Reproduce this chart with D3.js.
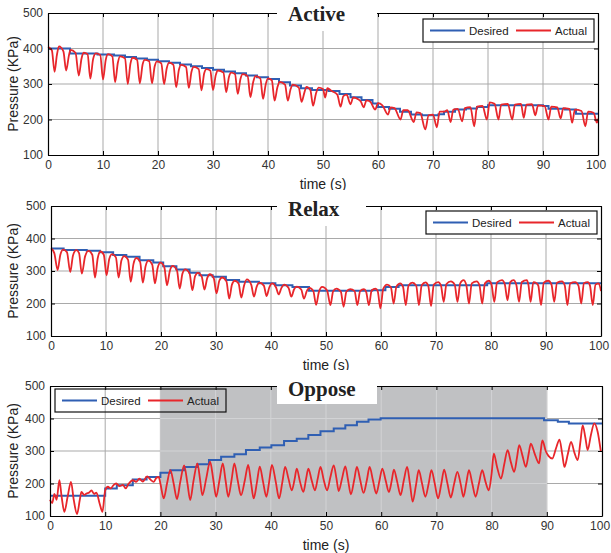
<!DOCTYPE html>
<html>
<head>
<meta charset="utf-8">
<script src="https://cdn.jsdelivr.net/npm/d3@7"></script>
<style>
body { margin: 0; background: #fff; }
text { font-family: Arial, "Liberation Sans", sans-serif; }
text.title { font-family: "Liberation Serif", "Times New Roman", serif; }
</style>
</head>
<body>
<svg id="drawing_region"></svg>
<script>
const xTicks = [0, 10, 20, 30, 40, 50, 60, 70, 80, 90, 100];
const yTicks = [100, 200, 300, 400, 500];
const seriesNames = ['Desired', 'Actual'];
const panelTitles = ['Active', 'Relax', 'Oppose'];
const opposeShade = [20, 90];

// [time (s), pressure (KPa)]
const activeDesired = [[0,400],[4,386],[9,383],[12,380],[14,376],[16,372],[18,368],[20,364],[22,360],[24,355],[26,350],[28,345],[30,340],[32,335],[34,330],[36,324],[38,319],[40,314],[42,305],[44,296],[46,288],[48,283],[51,280],[53,272],[55,263],[57,255],[59,245],[60,235],[62,230],[64,222],[66,214],[68,212],[71,215],[72,222],[74,228],[76,231],[78,235],[80,240],[90,238],[91,230],[94,228],[96,216],[100,214]];
const activeActual = [[0,405],[0.7,395],[1.2,334],[1.6,380],[2.0,406],[2.8,392],[3.3,338],[3.8,380],[4.1,396],[5.0,388],[5.6,324],[6.1,372],[6.5,388],[7.2,384],[7.7,315],[8.2,370],[8.7,386],[9.5,382],[10.0,313],[10.5,368],[10.9,384],[11.7,378],[12.2,305],[12.7,360],[13.1,378],[14.0,372],[14.5,300],[15.0,358],[15.4,374],[16.2,368],[16.7,302],[17.2,355],[17.6,368],[18.4,364],[18.9,302],[19.4,350],[19.8,364],[20.6,358],[21.1,300],[21.6,345],[22.0,360],[22.8,354],[23.3,291],[23.8,340],[24.2,354],[25.1,348],[25.6,289],[26.1,335],[26.5,348],[27.4,342],[27.9,282],[28.4,330],[28.8,342],[29.5,338],[30.0,283],[30.5,325],[30.9,338],[31.9,332],[32.4,277],[32.9,320],[33.3,332],[34.0,328],[34.5,272],[35.0,315],[35.4,328],[36.3,322],[36.8,263],[37.3,305],[37.7,322],[38.6,316],[39.1,258],[39.6,300],[40.0,316],[40.7,310],[41.2,253],[41.7,290],[42.1,306],[43.1,298],[43.6,253],[44.1,285],[44.5,298],[45.6,290],[46.1,250],[46.6,275],[47.0,292],[47.7,283],[48.2,239],[48.7,272],[49.2,290],[50.0,286],[50.4,262],[50.8,288],[51.6,280],[52.6,270],[53.2,236],[53.7,266],[54.3,270],[55.0,243],[55.5,262],[56.3,258],[56.9,250],[57.4,234],[57.9,254],[58.6,250],[59.5,228],[60.0,246],[60.8,240],[61.8,214],[62.3,234],[63.0,232],[64.1,200],[64.6,226],[65.4,226],[66.5,193],[67.0,220],[67.7,218],[68.6,172],[69.2,212],[70.0,214],[70.7,178],[71.2,222],[72.0,222],[72.6,226],[73.2,193],[73.7,228],[74.5,230],[75.3,195],[75.8,232],[76.8,235],[77.5,181],[78.0,236],[79.0,238],[79.8,200],[80.3,248],[81.2,244],[81.9,200],[82.4,242],[83.6,244],[84.4,200],[84.9,242],[86.0,244],[86.5,205],[87.0,242],[88.0,243],[88.6,212],[89.1,240],[90.3,238],[91.0,200],[91.5,236],[92.6,234],[93.2,203],[93.7,232],[94.8,230],[95.3,191],[95.8,228],[97.0,224],[97.7,181],[98.2,222],[99.2,219],[99.8,191],[100,202]];

const relaxDesired = [[0,369],[2.3,365],[6.5,362],[8.9,358],[11.3,349],[13.7,344],[16.1,333],[18.6,326],[20.4,315],[22.8,305],[25.2,295],[27,287],[29.4,282],[31.8,272],[34.2,267],[37.8,262],[40.8,256],[43.9,251],[46.9,239],[58.4,241],[60.8,251],[63.2,256],[79.3,262],[100,262]];
const relaxActual = [[0.0,370],[0.6,355],[1.2,303],[1.7,350],[2.2,366],[2.9,358],[3.5,297],[4.0,348],[4.6,364],[5.1,355],[5.6,292],[6.2,345],[6.8,362],[7.5,350],[8.0,280],[8.5,340],[9.0,360],[9.6,350],[10.1,287],[10.6,338],[11.1,352],[11.8,342],[12.3,280],[12.8,332],[13.3,346],[14.0,335],[14.5,267],[15.0,322],[15.5,340],[16.2,328],[16.7,264],[17.2,315],[17.7,332],[18.4,320],[18.9,262],[19.4,310],[19.9,326],[20.6,312],[21.1,256],[21.6,300],[22.1,316],[22.9,302],[23.4,246],[23.9,292],[24.4,305],[25.2,292],[25.7,241],[26.2,284],[26.7,294],[27.4,283],[27.9,243],[28.4,278],[28.9,290],[29.6,277],[30.1,231],[30.6,270],[31.1,280],[31.9,268],[32.4,215],[32.9,258],[33.4,270],[34.1,262],[34.6,218],[35.1,255],[35.6,274],[36.4,258],[36.9,221],[37.4,252],[37.9,264],[38.7,255],[39.2,223],[39.7,250],[40.2,262],[40.9,250],[41.4,228],[41.9,248],[42.4,258],[43.2,248],[43.7,221],[44.2,244],[44.7,252],[45.5,243],[46.0,215],[46.5,238],[47.0,248],[47.7,238],[48.2,196],[48.7,235],[49.3,251],[50.2,240],[50.8,195],[51.3,238],[51.9,246],[52.7,236],[53.2,190],[53.7,236],[54.4,244],[55.2,238],[55.7,195],[56.2,238],[56.9,244],[57.3,236],[57.8,195],[58.3,240],[59.0,246],[59.4,238],[59.9,185],[60.4,245],[61.1,258],[61.8,250],[62.3,200],[62.8,252],[63.5,262],[64.0,252],[64.5,195],[65.0,255],[65.7,264],[66.4,255],[66.9,195],[67.4,256],[68.1,265],[68.6,254],[69.1,192],[69.6,258],[70.4,266],[70.9,256],[71.4,205],[71.9,260],[72.7,268],[73.4,258],[73.9,205],[74.4,262],[75.0,272],[75.5,258],[76.0,200],[76.5,262],[77.4,268],[77.9,256],[78.4,200],[78.9,262],[79.6,270],[80.1,258],[80.6,205],[81.1,265],[82.0,272],[82.5,260],[83.0,210],[83.5,266],[84.1,272],[84.6,258],[85.1,205],[85.6,266],[86.5,272],[86.8,258],[87.2,205],[87.7,266],[88.3,262],[88.6,255],[89.1,195],[89.6,264],[90.4,270],[91.0,258],[91.5,205],[92.0,264],[92.9,268],[93.4,256],[93.9,195],[94.4,262],[95.3,266],[95.9,255],[96.4,200],[96.9,262],[97.6,266],[98.0,255],[98.5,195],[99.0,258],[99.6,262],[100,238]];

const opposeDesired = [[0,162],[10,185],[12.1,195],[15,212],[17.5,220],[20,233],[21.8,241],[24.3,251],[26.7,259],[28.8,272],[31,282],[33.4,290],[35.5,303],[38,311],[40.1,318],[42.4,331],[44.7,338],[46.8,349],[49,361],[51.4,369],[53.5,379],[55.6,390],[57.7,397],[59.9,401],[89.5,395],[92,390],[94,385],[100,385]];
const opposeActual = [[0.0,150],[0.4,140],[0.8,168],[1.2,150],[1.7,210],[2.1,160],[2.6,113],[3.2,160],[3.8,205],[4.3,150],[4.9,106],[5.4,150],[5.7,174],[6.2,165],[6.6,169],[7.1,172],[7.5,179],[8.0,168],[8.4,172],[9.0,138],[9.5,113],[10.0,179],[10.5,190],[11.0,185],[11.5,195],[12.0,200],[12.6,192],[13.2,196],[13.7,185],[14.2,198],[15.0,210],[15.6,205],[16.2,215],[16.8,206],[17.6,222],[18.2,212],[18.8,205],[19.3,218],[19.7,220],[20.0,200],[20.6,154],[21.2,200],[21.8,241],[22.4,200],[23.0,152],[23.6,205],[24.3,256],[24.9,200],[25.4,149],[26.0,208],[26.7,262],[27.2,210],[27.6,164],[28.3,215],[29.0,267],[29.6,210],[30.1,159],[30.7,210],[31.3,262],[31.8,210],[32.3,159],[32.9,212],[33.4,262],[34.0,210],[34.6,164],[35.3,210],[35.9,257],[36.4,205],[36.9,154],[37.5,205],[38.0,252],[38.6,205],[39.2,159],[39.7,205],[40.2,257],[40.9,205],[41.5,154],[42.1,205],[42.6,251],[43.2,215],[43.8,179],[44.3,212],[44.7,246],[45.3,205],[45.9,174],[46.4,215],[46.8,246],[47.4,210],[48.0,179],[48.5,215],[49.0,251],[49.6,210],[50.2,179],[50.8,220],[51.4,256],[51.9,215],[52.3,177],[52.9,215],[53.5,253],[54.0,210],[54.5,167],[55.1,210],[55.6,251],[56.2,210],[56.8,171],[57.4,210],[57.9,251],[58.5,210],[59.1,169],[59.7,210],[60.2,246],[60.8,210],[61.4,174],[61.9,208],[62.3,243],[62.9,205],[63.5,164],[64.1,210],[64.7,251],[65.2,200],[65.7,144],[66.3,195],[66.8,241],[67.4,200],[68.0,159],[68.6,200],[69.1,241],[69.7,200],[70.3,154],[70.9,200],[71.4,243],[72.0,200],[72.6,157],[73.2,198],[73.8,236],[74.4,198],[74.9,159],[75.4,200],[75.9,241],[76.5,200],[77.1,159],[77.7,200],[78.3,241],[78.9,205],[79.5,179],[80.0,230],[80.4,292],[81.0,250],[81.7,215],[82.3,260],[82.9,303],[83.5,265],[84.1,236],[84.6,280],[85.0,318],[85.6,285],[86.2,251],[86.7,290],[87.1,323],[87.8,292],[88.6,262],[88.9,300],[89.2,333],[89.8,300],[90.3,285],[91.0,277],[91.7,310],[92.3,335],[92.8,290],[93.2,251],[93.8,290],[94.4,328],[95.0,295],[95.6,272],[96.1,330],[96.5,379],[97.0,340],[97.4,303],[98.0,350],[98.6,385],[99.2,360],[99.8,297]];

const svg = d3.select('#drawing_region')
    .attr('width', 611)
    .attr('height', 553);

class PressureChart {

    constructor( config, desired, actual ) {
        this.config = config;
        this.desired = desired;
        this.actual = actual;
        this.init();
    }

    init() {
        let self = this;
        let c = self.config;

        self.chart = svg.append('g')
            .attr('transform', `translate(${c.left}, ${c.top})`);

        self.xscale = d3.scaleLinear()
            .domain([0, 100])
            .range([0, c.width]);

        self.yscale = d3.scaleLinear()
            .domain([100, 500])
            .range([c.height, 0]);
    }

    grid( g, color ) {
        let self = this;
        let c = self.config;
        g.selectAll('line.v').data(xTicks.slice(1, -1)).enter()
            .append('line')
            .attr('x1', d => self.xscale(d)).attr('x2', d => self.xscale(d))
            .attr('y1', 0).attr('y2', c.height)
            .attr('stroke', color).attr('stroke-width', 1);
        g.selectAll('line.h').data(yTicks.slice(1, -1)).enter()
            .append('line')
            .attr('x1', 0).attr('x2', c.width)
            .attr('y1', d => self.yscale(d)).attr('y2', d => self.yscale(d))
            .attr('stroke', color).attr('stroke-width', 1);
    }

    render() {
        let self = this;
        let c = self.config;

        self.grid(self.chart.append('g'), '#a9a9a9');

        if (c.shade) {
            const id = 'shade' + c.top;
            self.chart.append('clipPath').attr('id', id)
                .append('rect')
                .attr('x', self.xscale(c.shade[0]))
                .attr('width', self.xscale(c.shade[1]) - self.xscale(c.shade[0]))
                .attr('y', 0).attr('height', c.height);
            self.chart.append('rect')
                .attr('x', self.xscale(c.shade[0]))
                .attr('width', self.xscale(c.shade[1]) - self.xscale(c.shade[0]))
                .attr('y', 0).attr('height', c.height)
                .attr('fill', '#c0c1c3');
            self.grid(self.chart.append('g').attr('clip-path', `url(#${id})`), '#d2d3d5');
        }

        const desiredLine = d3.line()
            .x(d => self.xscale(d[0]))
            .y(d => self.yscale(d[1]))
            .curve(d3.curveStepAfter);

        const actualLine = d3.line()
            .x(d => self.xscale(d[0]))
            .y(d => self.yscale(d[1]))
            .curve(d3.curveMonotoneX);

        self.chart.append('path')
            .datum(self.desired)
            .attr('d', desiredLine)
            .attr('fill', 'none')
            .attr('stroke', '#2f5fb3')
            .attr('stroke-width', 2);

        self.chart.append('path')
            .datum(self.actual)
            .attr('d', actualLine)
            .attr('fill', 'none')
            .attr('stroke', '#e8262b')
            .attr('stroke-width', 1.8)
            .attr('stroke-linejoin', 'round');

        // axes with inward ticks on all four sides
        const fmt = d3.format('d');
        const xb = self.chart.append('g')
            .attr('transform', `translate(0, ${c.height})`)
            .call(d3.axisBottom(self.xscale).tickValues(xTicks).tickSizeInner(-4).tickSizeOuter(0).tickPadding(5).tickFormat(fmt));
        const yl = self.chart.append('g')
            .call(d3.axisLeft(self.yscale).tickValues(yTicks).tickSizeInner(-4).tickSizeOuter(0).tickPadding(5).tickFormat(fmt));
        const xt = self.chart.append('g')
            .call(d3.axisTop(self.xscale).tickValues(xTicks).tickSizeInner(-4).tickSizeOuter(0).tickFormat(''));
        const yr = self.chart.append('g')
            .attr('transform', `translate(${c.width}, 0)`)
            .call(d3.axisRight(self.yscale).tickValues(yTicks).tickSizeInner(-4).tickSizeOuter(0).tickFormat(''));

        [xb, yl, xt, yr].forEach(g => {
            g.select('.domain').attr('stroke', '#000').attr('stroke-width', 1.2);
            g.selectAll('.tick line').attr('stroke', '#000');
            g.selectAll('.tick text')
                .attr('font-size', 12)
                .attr('fill', '#333');
        });
        // last x label sits against the page edge, as in the original
        xb.selectAll('.tick text').filter(d => d === 100).attr('dx', '-0.2em');

        // title box
        svg.append('rect')
            .attr('x', c.titleBox[0]).attr('y', c.titleBox[1])
            .attr('width', c.titleBox[2]).attr('height', c.titleBox[3])
            .attr('fill', '#fff');
        svg.append('text')
            .attr('class', 'title')
            .attr('x', 288)
            .attr('y', c.titleY)
            .attr('font-weight', 'bold')
            .attr('font-size', 21)
            .attr('fill', '#222')
            .text(c.title);

        // axis labels
        self.chart.append('text')
            .attr('x', c.width / 2)
            .attr('y', c.height + 34)
            .attr('text-anchor', 'middle')
            .attr('font-size', 14)
            .attr('fill', '#222')
            .text('time (s)');

        svg.append('text')
            .attr('transform', `translate(13, ${c.top + c.height / 2}) rotate(-90)`)
            .attr('text-anchor', 'middle')
            .attr('dominant-baseline', 'central')
            .attr('font-size', 14)
            .attr('fill', '#222')
            .text('Pressure (KPa)');

        // legend
        const lg = svg.append('g')
            .attr('transform', `translate(${c.legend[0]}, ${c.legend[1]})`);
        lg.append('rect')
            .attr('width', 171).attr('height', 23)
            .attr('fill', c.shade ? 'none' : '#fff')
            .attr('stroke', '#111').attr('stroke-width', 1.2);
        const colors = ['#2f5fb3', '#e8262b'];
        seriesNames.forEach((name, i) => {
            const x0 = 7 + i * 86;
            lg.append('line')
                .attr('x1', x0).attr('x2', x0 + 35)
                .attr('y1', 11.5).attr('y2', 11.5)
                .attr('stroke', colors[i]).attr('stroke-width', 2);
            lg.append('text')
                .attr('x', x0 + 39)
                .attr('y', 15.5)
                .attr('font-size', 11.5)
                .attr('fill', '#222')
                .text(name);
        });
    }
}

const panels = [
    { title: panelTitles[0], left: 48, top: 13, width: 550, height: 142, titleBox: [277, 0, 100, 31], titleY: 21, legend: [423, 19] },
    { title: panelTitles[1], left: 51, top: 206, width: 550, height: 130, titleBox: [277, 190, 89, 36], titleY: 216, legend: [426, 211] },
    { title: panelTitles[2], left: 50, top: 386, width: 552, height: 130, titleBox: [277, 370, 100, 34], titleY: 396, legend: [55, 389], shade: opposeShade }
];
const series = [[activeDesired, activeActual], [relaxDesired, relaxActual], [opposeDesired, opposeActual]];

panels.forEach((p, i) => {
    const chart = new PressureChart(p, series[i][0], series[i][1]);
    chart.render();
});
</script>
</body>
</html>
